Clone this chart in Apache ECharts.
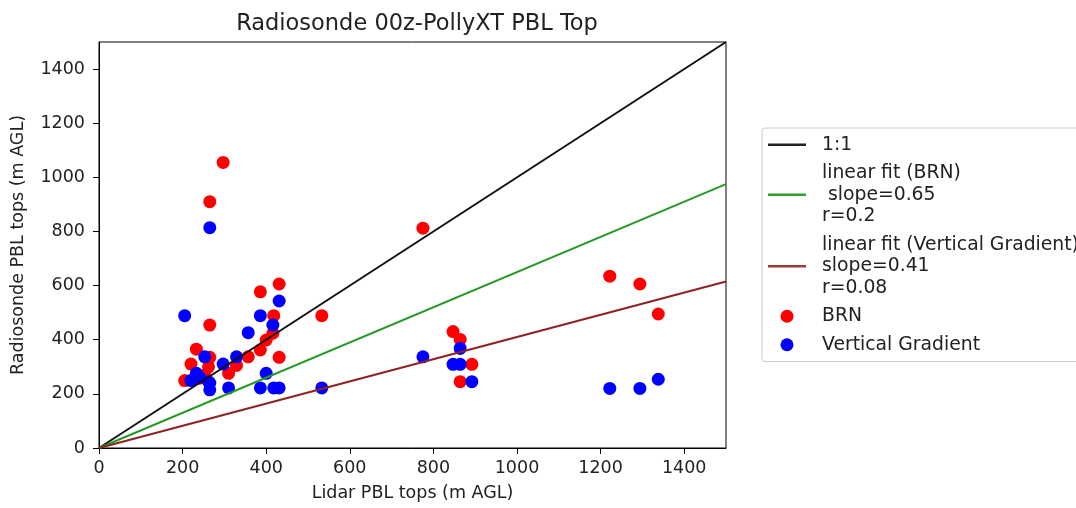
<!DOCTYPE html>
<html><head><meta charset="utf-8">
<script src="https://cdn.jsdelivr.net/npm/echarts@6/dist/echarts.min.js"></script>
<style>html,body{margin:0;padding:0;background:#fff}#c{width:1076px;height:508px}</style>
</head><body><div id="c"></div>
<script>
// Lidar PBL tops (x) shared by both radiosonde methods
const lidarX = [205, 220, 233, 240, 253, 262, 265, 265, 265, 297, 310, 329, 357, 386, 386, 400, 416, 418, 431, 431, 533, 775, 847, 864, 864, 892, 1222, 1294, 1338];
const brnY   = [249, 310, 365, 258, 270, 300, 335, 454, 910, 1055, 276, 305, 337, 362, 577, 399, 424, 489, 335, 606, 489, 812, 430, 401, 245, 309, 635, 606, 495];
const vgY    = [489, 249, 276, 262, 337, 245, 215, 240, 814, 310, 222, 337, 426, 222, 489, 276, 454, 222, 222, 543, 222, 337, 309, 368, 309, 245, 220, 220, 254];
const oneToOne = [[0, 0], [1500, 1500]];
const fitBRN   = [[0, 0], [1500, 975]];
const fitVG    = [[0, 0], [1500, 615]];
const xTicks = [0, 200, 400, 600, 800, 1000, 1200, 1400];
const yTicks = [0, 200, 400, 600, 800, 1000, 1200, 1400];
const names = ['1:1', 'linear fit (BRN)\n slope=0.65\nr=0.2', 'linear fit (Vertical Gradient)\nslope=0.41\nr=0.08', 'BRN', 'Vertical Gradient'];

const FONT = 'DejaVu Sans';
const chart = echarts.init(document.getElementById('c'), null, {renderer: 'canvas'});
const pts = (ys) => lidarX.map((x, i) => [x, ys[i]]);
const lineIcon = 'path://M0,0L38,0L38,2.6L0,2.6Z';
const axisCommon = {
  type: 'value', min: 0, max: 1500,
  splitLine: {show: false},
  axisLine: {show: true, onZero: false, lineStyle: {color: '#000', width: 1}},
  axisTick: {show: true, inside: false, length: 6, lineStyle: {color: '#000'}},
  axisLabel: {color: '#222', fontSize: 17.5, fontFamily: FONT, formatter: (v) => String(v)},
  nameLocation: 'middle',
  nameTextStyle: {color: '#222', fontSize: 17.5, fontFamily: FONT}
};
chart.setOption({
  animation: false,
  backgroundColor: '#fff',
  title: {
    text: 'Radiosonde 00z-PollyXT PBL Top',
    left: 412, top: 8, textAlign: 'center',
    textStyle: {color: '#222', fontSize: 22.5, fontWeight: 'normal', fontFamily: FONT}
  },
  grid: {left: 99, right: 350, top: 42, bottom: 60, show: true, borderColor: '#000', borderWidth: 1, backgroundColor: '#fff'},
  xAxis: Object.assign({}, axisCommon, {
    name: 'Lidar PBL tops (m AGL)', nameGap: 36,
    axisTick: Object.assign({}, axisCommon.axisTick, {customValues: xTicks}),
    axisLabel: Object.assign({}, axisCommon.axisLabel, {customValues: xTicks, margin: 11})
  }),
  yAxis: Object.assign({}, axisCommon, {
    name: 'Radiosonde PBL tops (m AGL)', nameGap: 72,
    axisTick: Object.assign({}, axisCommon.axisTick, {customValues: yTicks}),
    axisLabel: Object.assign({}, axisCommon.axisLabel, {customValues: yTicks, margin: 14})
  }),
  legend: {
    orient: 'vertical', left: 762, top: 128,
    padding: [6, 10, 6, 6],
    itemWidth: 38, itemHeight: 13, itemGap: 7,
    backgroundColor: '#fff', borderColor: '#cccccc', borderWidth: 1, borderRadius: 3,
    textStyle: {color: '#222', fontSize: 18.8, lineHeight: 21.5, fontFamily: FONT, padding: [0, 0, 0, 11]},
    data: [
      {name: names[0], icon: lineIcon},
      {name: names[1], icon: lineIcon},
      {name: names[2], icon: lineIcon},
      {name: names[3], icon: 'circle'},
      {name: names[4], icon: 'circle'}
    ]
  },
  series: [
    {name: names[0], type: 'line', data: oneToOne, symbol: 'none', z: 5, lineStyle: {color: '#111', width: 2}, itemStyle: {color: '#222'}},
    {name: names[1], type: 'line', data: fitBRN, symbol: 'none', z: 5, lineStyle: {color: '#249a24', width: 2}, itemStyle: {color: '#2ca02c'}},
    {name: names[2], type: 'line', data: fitVG, symbol: 'none', z: 5, lineStyle: {color: '#8e2222', width: 2}, itemStyle: {color: '#a03a3a'}},
    {name: names[3], type: 'scatter', data: pts(brnY), symbol: 'circle', symbolSize: 13, z: 2, itemStyle: {color: '#ff0000', opacity: 1}},
    {name: names[4], type: 'scatter', data: pts(vgY), symbol: 'circle', symbolSize: 13, z: 3, itemStyle: {color: '#0000ff', opacity: 1}}
  ]
});
</script></body></html>
